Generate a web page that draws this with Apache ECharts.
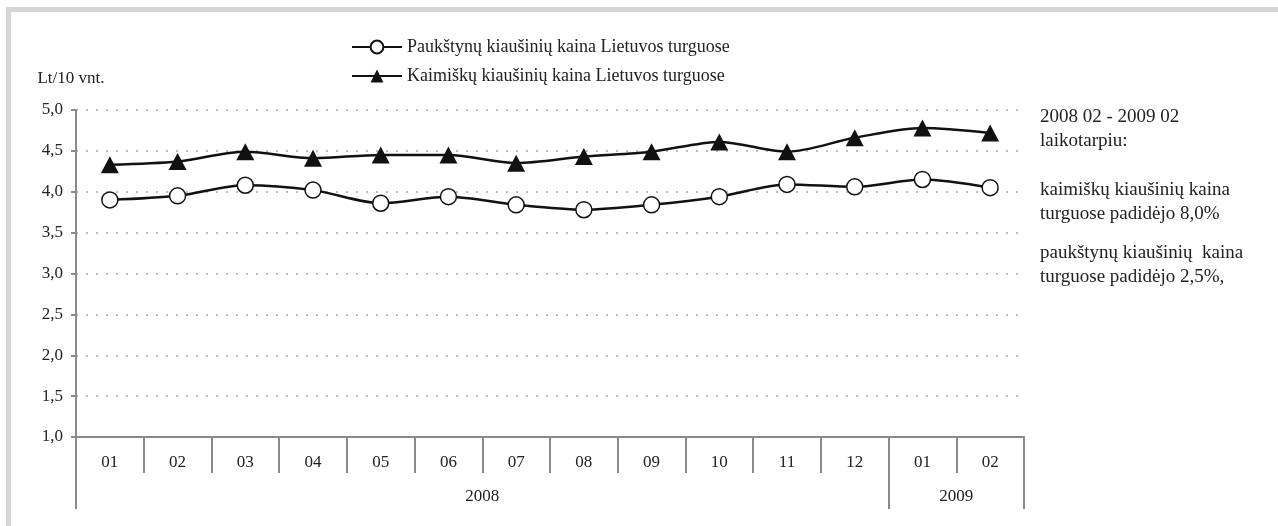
<!DOCTYPE html>
<html>
<head>
<meta charset="utf-8">
<script src="https://cdn.jsdelivr.net/npm/echarts@6/dist/echarts.min.js"></script>
<style>
  html, body { margin: 0; padding: 0; background: #fff; }
  #frame { position: absolute; left: 6px; top: 7px; width: 1272px; height: 519px;
           border-top: 5px solid #d6d6d6; border-left: 5px solid #d6d6d6; box-sizing: border-box; }
  #chart { position: absolute; left: 0; top: 0; width: 1278px; height: 526px; }
</style>
</head>
<body>
<div id="frame"></div>
<div id="chart"></div>
<script>
// data
var months = ['01', '02', '03', '04', '05', '06', '07', '08', '09', '10', '11', '12', '01', '02'];
var years = [{ name: '2008', from: 0, to: 12 }, { name: '2009', from: 12, to: 14 }];
var paukstynu = [3.90, 3.95, 4.08, 4.02, 3.86, 3.94, 3.84, 3.78, 3.84, 3.94, 4.09, 4.06, 4.15, 4.05];
var kaimisku = [4.33, 4.37, 4.49, 4.41, 4.45, 4.45, 4.35, 4.43, 4.49, 4.61, 4.49, 4.66, 4.78, 4.72];
var seriesNames = ['Paukštynų kiaušinių kaina Lietuvos turguose', 'Kaimiškų kiaušinių kaina Lietuvos turguose'];
var noteLines = [
    ['2008 02 - 2009 02', 'laikotarpiu:'],
    ['kaimiškų kiaušinių kaina', 'turguose padidėjo 8,0%'],
    ['paukštynų kiaušinių  kaina', 'turguose padidėjo 2,5%,']
];

var font = "'Liberation Serif', 'Times New Roman', serif";
var txt = '#222';
var axisGray = '#8a8a8a';

// year boundaries and centres for the second axis
var yearTicks = [0], yearCentres = [], yearLabel = {};
for (var i = 0; i < years.length; i++) {
    yearTicks.push(years[i].to);
    var c = (years[i].from + years[i].to) / 2;
    yearCentres.push(c);
    yearLabel[c] = years[i].name;
}

var notes = [];
var noteTops = [105, 178, 241];
for (var n = 0; n < noteLines.length; n++) {
    notes.push({
        type: 'text',
        left: 1040,
        top: noteTops[n],
        style: {
            text: noteLines[n].join('\n'),
            font: '19px ' + font,
            fill: txt,
            lineHeight: 24
        }
    });
}

var option = {
    animation: false,
    textStyle: { fontFamily: font },
    legend: {
        orient: 'vertical',
        left: 346,
        top: 33,
        itemWidth: 50,
        itemHeight: 16,
        itemGap: 11,
        textStyle: { fontFamily: font, fontSize: 18, color: txt },
        data: seriesNames
    },
    grid: { left: 76, right: 254, top: 110, bottom: 89 },
    xAxis: [{
        type: 'category',
        data: months,
        position: 'bottom',
        axisLine: { lineStyle: { color: axisGray, width: 2 } },
        axisTick: { show: true, interval: 0, length: 36, lineStyle: { color: axisGray, width: 2 } },
        axisLabel: { interval: 0, margin: 17, fontSize: 17, color: txt, fontFamily: font }
    }, {
        type: 'value',
        min: 0,
        max: months.length,
        position: 'bottom',
        offset: 36,
        splitLine: { show: false },
        axisLine: { show: false },
        axisTick: { show: true, length: 36, customValues: yearTicks, lineStyle: { color: axisGray, width: 2 } },
        axisLabel: {
            customValues: yearCentres,
            margin: 15,
            fontSize: 17,
            color: txt,
            fontFamily: font,
            formatter: function (v) { return yearLabel[v] || ''; }
        }
    }],
    yAxis: {
        type: 'value',
        min: 1,
        max: 5,
        interval: 0.5,
        name: 'Lt/10 vnt.',
        nameGap: 23,
        nameTextStyle: { fontSize: 17, color: txt, fontFamily: font, padding: [0, 10, 0, 0] },
        axisLine: { show: true, lineStyle: { color: axisGray, width: 2 } },
        axisTick: { show: true, length: 5, lineStyle: { color: axisGray, width: 2 } },
        axisLabel: {
            margin: 13,
            fontSize: 17,
            color: txt,
            fontFamily: font,
            formatter: function (v) { return v.toFixed(1).replace('.', ','); }
        },
        splitLine: { lineStyle: { type: [2, 8], width: 1.5, color: '#a8a8a8' } }
    },
    series: [{
        name: seriesNames[0],
        type: 'line',
        data: paukstynu,
        smooth: 0.3,
        symbol: 'circle',
        symbolSize: 16,
        lineStyle: { color: '#111', width: 2.5 },
        itemStyle: { color: '#fff', borderColor: '#111', borderWidth: 1.5 },
        z: 3
    }, {
        name: seriesNames[1],
        type: 'line',
        data: kaimisku,
        smooth: 0.3,
        symbol: 'triangle',
        symbolSize: [18, 17],
        lineStyle: { color: '#111', width: 2.5 },
        itemStyle: { color: '#111' },
        z: 3
    }],
    graphic: notes
};

var chart = echarts.init(document.getElementById('chart'));
chart.setOption(option);
</script>
</body>
</html>
